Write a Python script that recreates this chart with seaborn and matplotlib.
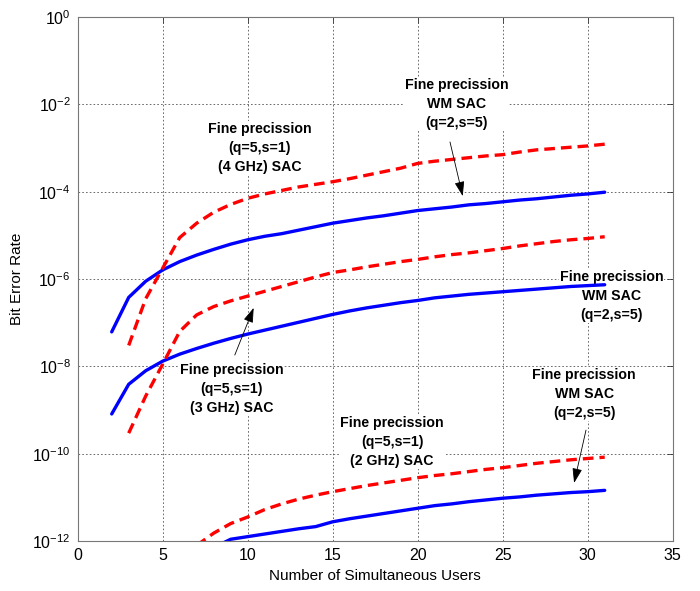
import numpy as np
import pandas as pd
import matplotlib
matplotlib.use("Agg")
import matplotlib.pyplot as plt
import seaborn as sns
from matplotlib.ticker import LogFormatterMathtext, FixedLocator, NullLocator

# number of simultaneous users
users_a = list(range(2, 32))   # blue curves starting at 2 users
users_b = list(range(3, 32))   # red curves starting at 3 users
users_c = list(range(7, 32))   # 2 GHz red
users_d = list(range(8, 32))   # 2 GHz blue

# BER values, as log10 exponents
wm_top_log = [-7.21, -6.42, -6.05, -5.79, -5.60, -5.45, -5.32, -5.20, -5.10, -5.02,
              -4.96, -4.88, -4.80, -4.72, -4.66, -4.60, -4.55, -4.49, -4.43, -4.39,
              -4.35, -4.30, -4.27, -4.23, -4.19, -4.16, -4.12, -4.08, -4.05, -4.01]
fine_4ghz_log = [-7.52, -6.45, -5.75, -5.05, -4.72, -4.47, -4.29, -4.15, -4.05, -3.97,
                 -3.89, -3.83, -3.77, -3.70, -3.62, -3.54, -3.46, -3.35, -3.30, -3.26,
                 -3.22, -3.18, -3.15, -3.09, -3.04, -3.01, -2.98, -2.95, -2.91]
wm_mid_log = [-9.09, -8.41, -8.10, -7.88, -7.72, -7.59, -7.47, -7.36, -7.26, -7.17,
              -7.08, -6.99, -6.90, -6.81, -6.73, -6.66, -6.60, -6.54, -6.49, -6.43,
              -6.39, -6.35, -6.32, -6.29, -6.26, -6.23, -6.20, -6.17, -6.15, -6.13]
fine_3ghz_log = [-9.53, -8.68, -7.95, -7.20, -6.82, -6.63, -6.50, -6.39, -6.28, -6.17,
                 -6.06, -5.95, -5.85, -5.79, -5.72, -5.66, -5.60, -5.55, -5.49, -5.44,
                 -5.40, -5.35, -5.30, -5.24, -5.19, -5.14, -5.10, -5.07, -5.03]
fine_2ghz_log = [-12.10, -11.82, -11.60, -11.45, -11.28, -11.15, -11.04, -10.95, -10.87,
                 -10.80, -10.73, -10.67, -10.61, -10.55, -10.50, -10.46, -10.41, -10.36,
                 -10.32, -10.27, -10.22, -10.18, -10.14, -10.11, -10.08]
wm_bot_log = [-12.15, -11.96, -11.90, -11.84, -11.78, -11.72, -11.67, -11.56, -11.49,
              -11.43, -11.37, -11.31, -11.25, -11.19, -11.15, -11.10, -11.06, -11.02,
              -10.99, -10.95, -10.92, -10.89, -10.87, -10.84]

x_ticks = [0, 5, 10, 15, 20, 25, 30, 35]
y_ticks = [1e-12, 1e-10, 1e-8, 1e-6, 1e-4, 1e-2, 1e0]

sns.set_style("white")
plt.rcParams['font.family'] = ['Liberation Sans', 'DejaVu Sans']
plt.rcParams['mathtext.fontset'] = 'custom'
plt.rcParams['mathtext.rm'] = 'Liberation Sans'
plt.rcParams['text.color'] = 'black'
plt.rcParams['axes.labelcolor'] = 'black'

fig = plt.figure(figsize=(7.0, 5.91), dpi=100)
ax = fig.add_axes([0.111, 0.0846, 0.850, 0.8864])
ax.set_axisbelow(True)

blue = "#0000ff"
red = "#ff0000"
series = [
    (users_a, wm_top_log, blue, "-"),
    (users_b, fine_4ghz_log, red, (0, (3.2, 1.8))),
    (users_a, wm_mid_log, blue, "-"),
    (users_b, fine_3ghz_log, red, (0, (3.2, 1.8))),
    (users_c, fine_2ghz_log, red, (0, (3.2, 1.8))),
    (users_d, wm_bot_log, blue, "-"),
]
for xs, ys, col, ls in series:
    df = pd.DataFrame({"users": xs, "ber": 10.0 ** np.array(ys)})
    sns.lineplot(data=df, x="users", y="ber", ax=ax, color=col,
                 linestyle=ls, linewidth=2.4, legend=False, zorder=3)

ax.set_yscale("log")
ax.set_xlim(0, 35)
ax.set_ylim(1e-12, 1e0)
ax.xaxis.set_major_locator(FixedLocator(x_ticks))
ax.yaxis.set_major_locator(FixedLocator(y_ticks))
ax.yaxis.set_minor_locator(NullLocator())
ax.yaxis.set_major_formatter(LogFormatterMathtext())
ax.tick_params(axis="both", which="major", direction="in", length=4, width=0.6,
               top=True, right=True, labelsize=11.5, colors="#333333",
               labelcolor="black", pad=5)
ax.grid(True, which="major", linestyle=(0, (2, 2.5)), color="#555555", linewidth=0.6)
for sp in ax.spines.values():
    sp.set_color("#777777")
    sp.set_linewidth(0.8)

ax.set_xlabel("Number of Simultaneous Users", fontsize=11, labelpad=4)
ax.set_ylabel("Bit Error Rate", fontsize=11, labelpad=6)

box = dict(facecolor="white", edgecolor="none", pad=0.5)
txt = dict(fontsize=10.2, fontweight="bold", ha="center", va="center",
           linespacing=1.45, bbox=box, color="black", zorder=2)
arrow = dict(arrowstyle="-|>,head_length=0.9,head_width=0.3", color="black",
             lw=0.6, shrinkA=0, shrinkB=0)

ax.text(10.7, 10 ** -3.0, "Fine precission\n(q=5,s=1)\n(4 GHz) SAC", **txt)
ax.annotate("", xy=(22.65, 10 ** -4.1), xytext=(21.9, 10 ** -2.86), arrowprops=arrow)
ax.text(22.3, 10 ** -2.0, "Fine precission\nWM SAC\n(q=2,s=5)", **txt)
ax.annotate("", xy=(10.35, 10 ** -6.66), xytext=(9.24, 10 ** -7.74), arrowprops=arrow)
ax.text(9.05, 10 ** -8.52, "Fine precission\n(q=5,s=1)\n(3 GHz) SAC", **txt)
ax.text(31.4, 10 ** -6.39, "Fine precission\nWM SAC\n(q=2,s=5)", **txt)
ax.annotate("", xy=(29.2, 10 ** -10.67), xytext=(29.9, 10 ** -9.46), arrowprops=arrow)
ax.text(29.8, 10 ** -8.63, "Fine precission\nWM SAC\n(q=2,s=5)", **txt)
ax.text(18.5, 10 ** -9.73, "Fine precission\n(q=5,s=1)\n(2 GHz) SAC", **txt)

fig.savefig("out.png", dpi=100)
